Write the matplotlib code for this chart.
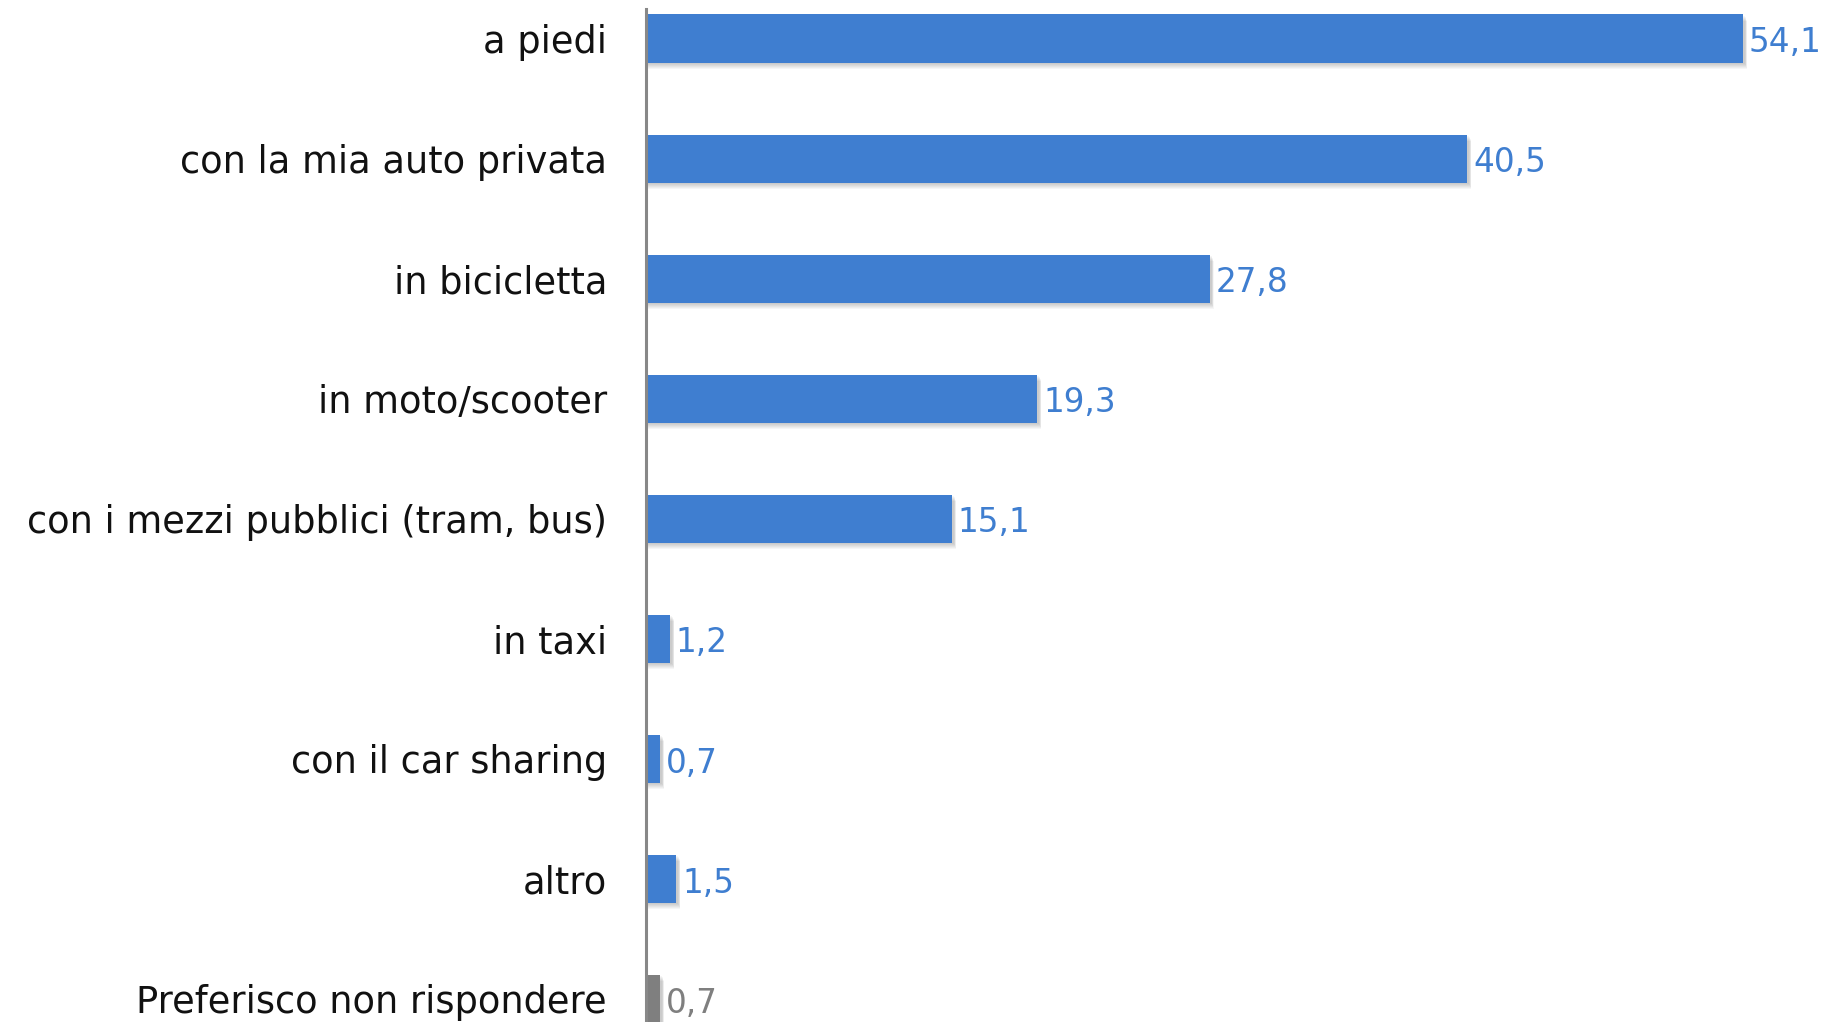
import matplotlib.pyplot as plt

# categorie e valori (%)
categorie = ["a piedi", "con la mia auto privata", "in bicicletta", "in moto/scooter",
             "con i mezzi pubblici (tram, bus)", "in taxi", "con il car sharing", "altro",
             "Preferisco non rispondere"]
valori = [54.1, 40.5, 27.8, 19.3, 15.1, 1.2, 0.7, 1.5, 0.7]
colori = ["#3F7ED0"] * 8 + ["#7F7F7F"]

plt.rcParams['font.family'] = ['DejaVu Sans']

fig = plt.figure(figsize=(18.21, 10.22), dpi=100)
ax = fig.add_axes([646 / 1821, 0, 1 - 646 / 1821, 1013 / 1022])

y = list(range(len(categorie)))
h = 0.40

# ombra sotto le barre
for k in range(6):
    off = 0.012 + k * 0.008
    ax.barh([i + off for i in y], [v + 0.1 + k * 0.02 for v in valori], height=h,
            color="black", alpha=0.035, zorder=1, linewidth=0)

bars = ax.barh(y, valori, height=h, color=colori, zorder=3, linewidth=0)

etichette = [f"{v:.1f}".replace(".", ",") for v in valori]
ax.bar_label(bars, labels=etichette, padding=4, fontsize=23.5)
for t, c in zip(ax.texts, colori):
    t.set_color(c)
    t.set_y(-3)

ax.set_xlim(0, (1821 - 646) / 20.28)
ax.set_ylim((1022 - 38.5) / 120.06, -(38.5 - 9) / 120.06)
ax.set_yticks(y)
ax.set_yticklabels(categorie, fontsize=26.5, color="#111111")
ax.tick_params(axis="y", length=0, pad=28)
ax.set_xticks([])

for s in ["top", "right", "bottom"]:
    ax.spines[s].set_visible(False)
ax.spines["left"].set_color("#888888")
ax.spines["left"].set_linewidth(2.2)
ax.spines["left"].set_zorder(4)

fig.savefig("out.png", dpi=100)
